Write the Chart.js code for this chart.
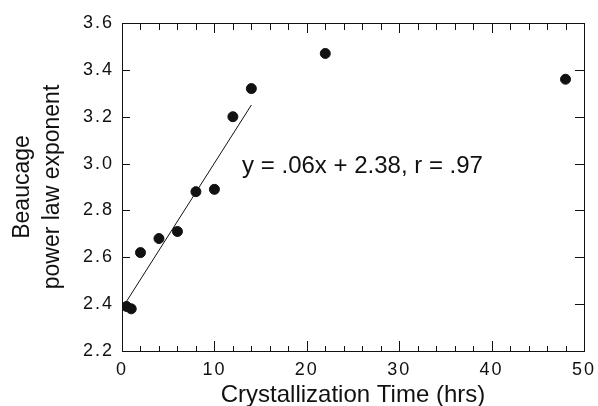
<!DOCTYPE html>
<html>
<head>
<meta charset="utf-8">
<script src="https://cdn.jsdelivr.net/npm/chart.js@4/dist/chart.umd.min.js"></script>
<style>
  html, body { margin: 0; padding: 0; background: #fff; }
  #wrap { width: 598px; height: 406px; }
</style>
</head>
<body>
<div id="wrap"><canvas id="c" width="598" height="406"></canvas></div>
<script>
(function () {
    'use strict';

    // values
    var timeHrs = [0.5, 1, 2, 4, 6, 8, 10, 12, 14, 22, 48];
    var exponent = [2.39, 2.38, 2.62, 2.68, 2.71, 2.88, 2.89, 3.20, 3.32, 3.47, 3.36];
    var fitX = [0.3, 14];
    var fitY = [2.40, 3.25];
    var fitLabel = 'y = .06x + 2.38, r = .97';
    var fitLabelAt = [13, 2.99];
    var xTitle = 'Crystallization Time (hrs)';
    var yTitle = ['Beaucage', 'power law exponent'];

    var ink = '#111';
    var font = 'Liberation Sans, Arial, Helvetica, sans-serif';

    var frame = {
        id: 'frame',
        afterDatasetsDraw: function (chart) {
            var ctx = chart.ctx, a = chart.chartArea;
            var xs = chart.scales.x, ys = chart.scales.y;
            ctx.save();
            ctx.strokeStyle = ink;
            ctx.lineWidth = 1;
            ctx.strokeRect(a.left + 0.5, a.top + 0.5, a.right - a.left, a.bottom - a.top);
            ctx.beginPath();
            for (var v = 2; v < 50; v += 2) {
                var px = Math.round(xs.getPixelForValue(v)) + 0.5;
                var major = v % 10 === 0;
                ctx.moveTo(px, a.bottom);
                ctx.lineTo(px, a.bottom - (major ? 10 : 5));
                ctx.moveTo(px, a.top);
                ctx.lineTo(px, a.top + (major ? 10 : 7));
            }
            for (var i = 1; i < 7; i++) {
                var py = Math.round(ys.getPixelForValue(2.2 + i * 0.2)) + 0.5;
                ctx.moveTo(a.left, py);
                ctx.lineTo(a.left + 8, py);
                ctx.moveTo(a.right, py);
                ctx.lineTo(a.right - 9, py);
            }
            ctx.stroke();

            ctx.fillStyle = ink;
            ctx.font = '24px ' + font;
            ctx.textAlign = 'left';
            ctx.textBaseline = 'middle';
            ctx.fillText(fitLabel, xs.getPixelForValue(fitLabelAt[0]), ys.getPixelForValue(fitLabelAt[1]));
            ctx.restore();
            // tick labels (z = 1) are drawn after this hook
            ctx.letterSpacing = '2px';
        },
        afterDraw: function (chart) {
            chart.ctx.letterSpacing = '0px';
        }
    };

    new Chart(document.getElementById('c'), {
        type: 'scatter',
        data: {
            datasets: [{
                data: timeHrs.map(function (t, i) { return { x: t, y: exponent[i] }; }),
                backgroundColor: ink,
                borderColor: ink,
                pointRadius: 5,
                pointHoverRadius: 5
            }, {
                type: 'line',
                data: fitX.map(function (t, i) { return { x: t, y: fitY[i] }; }),
                borderColor: ink,
                borderWidth: 1,
                pointRadius: 0,
                fill: false
            }]
        },
        options: {
            responsive: false,
            animation: false,
            events: [],
            layout: { padding: { top: 23, right: 14, left: 0, bottom: 0 } },
            plugins: { legend: { display: false }, tooltip: { enabled: false } },
            scales: {
                x: {
                    type: 'linear', min: 0, max: 50,
                    grid: { drawOnChartArea: false, drawTicks: false },
                    border: { display: false },
                    ticks: { stepSize: 10, color: ink, padding: 8, z: 1, font: { family: font, size: 18 } },
                    title: { display: true, text: xTitle, color: ink, padding: { top: 0, bottom: -4 }, font: { family: font, size: 24 } },
                    afterFit: function (s) { s.height = 55; s.paddingRight = 0; s.paddingLeft = 0; }
                },
                y: {
                    min: 2.2, max: 3.6,
                    grid: { drawOnChartArea: false, drawTicks: false },
                    border: { display: false },
                    ticks: {
                        stepSize: 0.2, color: ink, padding: 8, z: 1,
                        font: { family: font, size: 18 },
                        callback: function (v) { return v.toFixed(1); }
                    },
                    title: { display: true, text: yTitle, color: ink, padding: { top: 8, bottom: 0 }, font: { family: font, size: 23, lineHeight: 1.3 } },
                    afterFit: function (s) { s.width = 122; s.paddingTop = 0; s.paddingBottom = 0; }
                }
            }
        },
        plugins: [frame]
    });
})();
</script>
</body>
</html>
